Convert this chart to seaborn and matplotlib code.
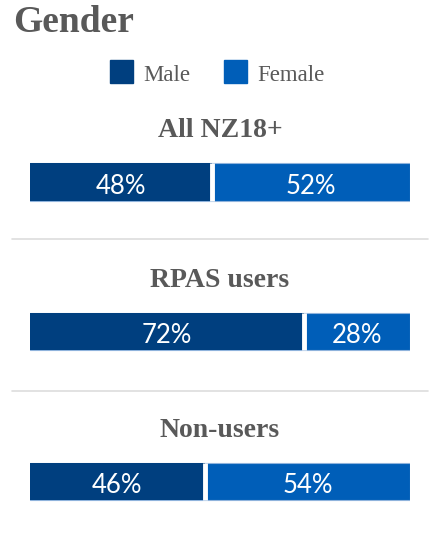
import matplotlib
matplotlib.use("Agg")
import matplotlib.pyplot as plt
import seaborn as sns
import pandas as pd

groups = ["All NZ18+", "RPAS users", "Non-users"]
male = [48, 72, 46]
female = [52, 28, 54]

male_color = "#003F7F"
female_color = "#005EB8"
grey = "#595959"

sns.set_theme(style="white")

W, H = 447, 538
fig = plt.figure(figsize=(W / 100, H / 100), dpi=100)

# axes spans the bar area horizontally (0-100 %) and the whole figure vertically
ax = fig.add_axes([30 / W, 0, 380 / W, 1])
unit = 149.75
top_px = 182

df = pd.DataFrame({"group": groups, "male": male, "female": female})
df["total"] = df["male"] + df["female"]

# full-width female bar underneath, male share on top
sns.barplot(data=df, x="total", y="group", orient="h", color=female_color,
            width=0.25, edgecolor="#8fb3dc", linewidth=0.8, ax=ax, saturation=1)
sns.barplot(data=df, x="male", y="group", orient="h", color=male_color,
            width=0.25, linewidth=0, ax=ax, saturation=1)

ax.set_xlim(0, 100)
ax.set_ylim((H - top_px) / unit, -top_px / unit)
ax.axis("off")

# white gap between male and female segments
for i, m in enumerate(df["male"]):
    ax.plot([m, m], [i - 0.125, i + 0.125], color="white", lw=3.5,
            solid_capstyle="butt", zorder=5)

label_font = dict(family="Lato", fontweight="normal", color="white",
                  fontsize=18.5, ha="center", va="baseline", zorder=6)
for i, (m, f) in enumerate(zip(df["male"], df["female"])):
    ax.text(m / 2, i + 0.077, f"{m}%", **label_font)
    ax.text(m + f / 2, i + 0.077, f"{f}%", **label_font)
    ax.text(50, i - 0.30, groups[i], family="Liberation Serif",
            fontweight="bold", fontsize=20, color=grey,
            ha="center", va="baseline")

# separators between groups
for ypx in (238.5, 390.5):
    fig.add_artist(plt.Line2D([12 / W, 428 / W], [1 - ypx / H, 1 - ypx / H],
                              color="#dddddd", lw=1.2))

fig.text(13 / W, 1 - 32 / H, "Gender", family="Liberation Serif",
         fontweight="bold", fontsize=27, color=grey, ha="left", va="baseline")

# legend
for x0, lab, col in ((110, "Male", male_color), (224, "Female", female_color)):
    fig.add_artist(plt.Rectangle((x0 / W, 1 - 83 / H), 23 / W, 23 / H,
                                 color=col, transform=fig.transFigure))
    fig.text((x0 + 33) / W, 1 - 81 / H, lab, family="Liberation Serif",
             fontsize=16.5, color=grey, ha="left", va="baseline")

fig.savefig("out.png", dpi=100)
